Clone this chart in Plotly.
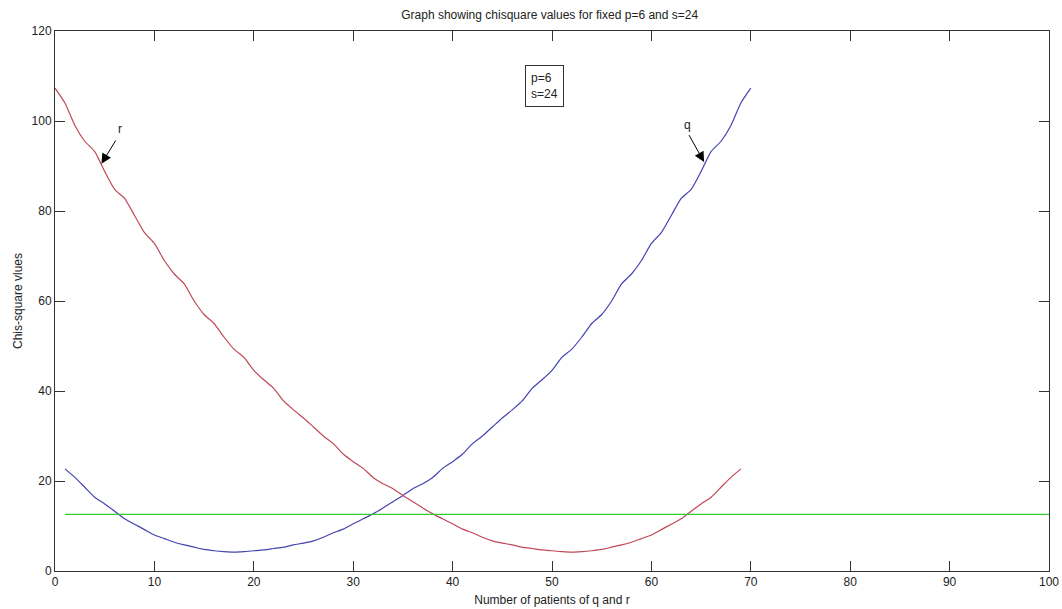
import plotly.graph_objects as go

# x positions
q_x = list(range(1, 71))
r_x = list(range(0, 70))

# chi-square values
q_vals = [22.7, 20.8, 18.6, 16.4, 14.9, 13.3, 11.6, 10.4, 9.2, 8.0,
          7.2, 6.4, 5.8, 5.3, 4.8, 4.5, 4.3, 4.2, 4.3, 4.5,
          4.7, 5.0, 5.3, 5.8, 6.2, 6.7, 7.5, 8.5, 9.3, 10.5,
          11.6, 12.7, 14.0, 15.4, 16.8, 18.3, 19.4, 20.8, 22.8, 24.3,
          26.0, 28.3, 30.0, 32.0, 34.0, 35.8, 37.8, 40.6, 42.5, 44.6,
          47.5, 49.3, 52.0, 55.0, 57.0, 60.0, 63.8, 66.0, 69.0, 72.8,
          75.2, 79.0, 82.8, 84.8, 88.8, 93.2, 95.5, 99.0, 104.0, 107.3]

r_vals = [107.3, 104.0, 99.0, 95.5, 93.2, 88.8, 84.8, 82.8, 79.0, 75.2,
          72.8, 69.0, 66.0, 63.8, 60.0, 57.0, 55.0, 52.0, 49.3, 47.5,
          44.6, 42.5, 40.6, 37.8, 35.8, 34.0, 32.0, 30.0, 28.3, 26.0,
          24.3, 22.8, 20.8, 19.4, 18.3, 16.8, 15.4, 14.0, 12.7, 11.6,
          10.5, 9.3, 8.5, 7.5, 6.7, 6.2, 5.8, 5.3, 5.0, 4.7,
          4.5, 4.3, 4.2, 4.3, 4.5, 4.8, 5.3, 5.8, 6.4, 7.2,
          8.0, 9.2, 10.4, 11.6, 13.3, 14.9, 16.4, 18.6, 20.8, 22.7]

crit_x = [1, 100]
crit_y = [12.59, 12.59]

x_ticks = [0, 10, 20, 30, 40, 50, 60, 70, 80, 90, 100]
y_ticks = [0, 20, 40, 60, 80, 100, 120]

FONT = "Liberation Sans, Arial, sans-serif"

fig = go.Figure()
fig.add_trace(go.Scatter(x=q_x, y=q_vals, mode="lines", line_shape="spline",
                         line=dict(color="#4444b0", width=1.2, smoothing=0.6), name="q"))
fig.add_trace(go.Scatter(x=r_x, y=r_vals, mode="lines", line_shape="spline",
                         line=dict(color="#c04858", width=1.2, smoothing=0.6), name="r"))
fig.add_trace(go.Scatter(x=crit_x, y=crit_y, mode="lines",
                         line=dict(color="#33cc33", width=1.2), name="crit"))

axis_common = dict(showline=True, linecolor="#333333", linewidth=1, mirror="ticks",
                   ticks="inside", ticklen=10, tickcolor="#333333", tickwidth=1,
                   showgrid=False, zeroline=False, automargin=False,
                   tickfont=dict(family=FONT, size=12, color="#222222"))

fig.update_xaxes(range=[0, 100], tickvals=x_ticks,
                 title=dict(text="Number of patients of q and r",
                            font=dict(family=FONT, size=12, color="#222222"), standoff=7),
                 **axis_common)
fig.update_yaxes(range=[0, 120], tickvals=y_ticks,
                 title=dict(text="Chis-square vlues",
                            font=dict(family=FONT, size=12, color="#222222"), standoff=6),
                 **axis_common)

# arrows
fig.add_annotation(x=4.67, y=90.5, ax=6.2, ay=96.0, xref="x", yref="y",
                   axref="x", ayref="y", text="", showarrow=True,
                   arrowhead=2, arrowsize=2, arrowwidth=1, arrowcolor="#000000")
fig.add_annotation(x=6.5, y=98.2, text="r", showarrow=False,
                   font=dict(family=FONT, size=12, color="#222222"))
fig.add_annotation(x=65.3, y=90.9, ax=63.7, ay=97.2, xref="x", yref="y",
                   axref="x", ayref="y", text="", showarrow=True,
                   arrowhead=2, arrowsize=2, arrowwidth=1, arrowcolor="#000000")
fig.add_annotation(x=63.6, y=99.2, text="q", showarrow=False,
                   font=dict(family=FONT, size=12, color="#222222"))

# parameter box
fig.add_annotation(x=49.2, y=107.8, text="p=6<br>s=24", showarrow=False, align="left",
                   bordercolor="#333333", borderwidth=1, borderpad=5, bgcolor="white",
                   font=dict(family=FONT, size=12, color="#222222"))

fig.update_layout(
    width=1062, height=609,
    margin=dict(l=55, r=13, t=31, b=38),
    paper_bgcolor="white", plot_bgcolor="white",
    showlegend=False,
    title=dict(text="Graph showing chisquare values for fixed p=6 and s=24",
               x=0.5176, xanchor="center", y=0.975, yanchor="middle",
               font=dict(family=FONT, size=12, color="#222222")),
)

fig.write_html("out.html", config={"displayModeBar": False},
               post_script="document.body.style.margin='0';document.body.style.padding='0';document.body.style.overflow='hidden';")
